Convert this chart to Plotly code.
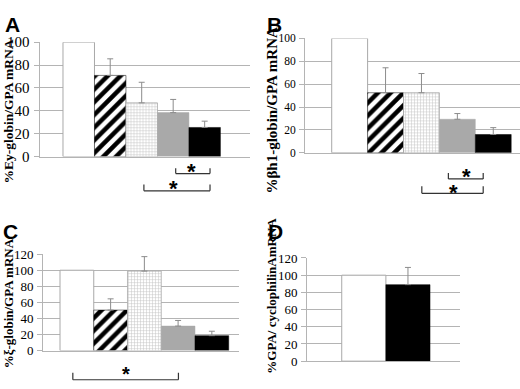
import plotly.graph_objects as go

W, H = 520, 389

# ---------------- data ----------------
groups5 = ["control", "hatched", "dotted", "gray", "black"]
A_vals = [100, 71, 47, 38.5, 25.5]
A_err = [0, 14.5, 18, 11.5, 5.5]
B_vals = [100, 52.5, 52.5, 29.3, 16]
B_err = [0, 21.8, 16.8, 5, 6]
C_vals = [100, 50.4, 98.9, 30.5, 18.6]
C_err = [0, 14, 18, 7, 5.5]
groupsD = ["control", "black"]
D_vals = [100, 89]
D_err = [0, 20]

A_ticks = [0, 20, 40, 60, 80, 100]
C_ticks = [0, 20, 40, 60, 80, 100, 120]

titles = {
    "A": "%Ey-globin/GPA mRNA",
    "B": "%βh1-globin/GPA mRNA",
    "C": "%ξ-globin/GPA mRNA",
    "D": "%GPA/ cyclophilinAmRNA",
}

GRID = "#b4b4b4"
ERR = "#8c8c8c"
SERIF = "Liberation Serif"
SANS = "Liberation Sans"


def xd(p0, p1):
    return [p0 / W, min(p1 / W, 1.0)]


def yd(top, bottom):
    return [(H - bottom) / H, (H - top) / H]


def py(p):
    return (H - p) / H


styles = {
    "control": dict(color="white", line=dict(color="#a8a8a8", width=1)),
    "hatched": dict(color="white", line=dict(color="black", width=0.5),
                    pattern=dict(shape="/", fgcolor="black", bgcolor="white", fgopacity=1,
                                 size=9, solidity=0.5)),
    "dotted": dict(color="white", line=dict(color="#a8a8a8", width=0.8),
                   pattern=dict(shape="+", fgcolor="#c4c4c4", bgcolor="white", fgopacity=1,
                                size=3, solidity=0.3)),
    "gray": dict(color="#a9a9a9", line=dict(color="#a9a9a9", width=0.5)),
    "black": dict(color="black", line=dict(color="black", width=0.5)),
}

fig = go.Figure()


def add_panel(n, names, vals, errs):
    xa = "x" if n == 1 else f"x{n}"
    ya = "y" if n == 1 else f"y{n}"
    for i, (nm, v, e) in enumerate(zip(names, vals, errs)):
        fig.add_trace(go.Bar(
            x=[i], y=[v], width=1.0, xaxis=xa, yaxis=ya,
            marker=styles[nm], opacity=1, showlegend=False,
            error_y=dict(type="data", array=[e], arrayminus=[0], symmetric=False,
                         color=ERR, thickness=1, width=3, visible=e > 0),
        ))


add_panel(1, groups5, A_vals, A_err)
add_panel(2, groups5, B_vals, B_err)
add_panel(3, groups5, C_vals, C_err)
add_panel(4, groupsD, D_vals, D_err)


def yaxis(dom, rng, ticks, size, anchor):
    return dict(domain=dom, range=rng, tickvals=ticks, anchor=anchor, showgrid=True, gridcolor=GRID,
                gridwidth=1, showline=True, linecolor=GRID, linewidth=1, ticks="outside",
                ticklen=5, tickcolor=GRID, zeroline=False, ticklabelstandoff=1,
                tickfont=dict(family=SERIF, size=size, color="black"), fixedrange=True)


def xaxis(dom, rng, anchor):
    return dict(domain=dom, range=rng, anchor=anchor, showgrid=False, showline=True,
                linecolor=GRID, linewidth=1, showticklabels=False, ticks="", zeroline=False,
                fixedrange=True)


fig.update_layout(
    width=W, height=H, margin=dict(l=0, r=0, t=0, b=0),
    paper_bgcolor="white", plot_bgcolor="white", barmode="overlay",
    xaxis=xaxis(xd(39.5, 250), [-1.246, 5.44], "y"),
    yaxis=yaxis(yd(35.7, 155), [0, 100], A_ticks, 15, "x"),
    xaxis2=xaxis(xd(305, 520), [-1.244, 4.745], "y2"),
    yaxis2=yaxis(yd(31.7, 151), [0, 100], A_ticks, 11.5, "x2"),
    xaxis3=xaxis(xd(43, 239.3), [-1.004, 4.814], "y3"),
    yaxis3=yaxis(yd(256.7, 357.3), [0, 120], C_ticks, 13, "x3"),
    xaxis4=xaxis(xd(307, 460), [-1.287, 2.179], "y4"),
    yaxis4=yaxis(yd(260.7, 368.3), [0, 120], C_ticks, 13, "x4"),
)

shapes = []
annos = []


def bracket(xref, x0, x1, ybar, ytop):
    for (a, b, c, d) in [(x0, ybar, x1, ybar), (x0, ybar, x0, ytop), (x1, ybar, x1, ytop)]:
        shapes.append(dict(type="line", xref=xref, yref="paper", x0=a, x1=c,
                           y0=py(b), y1=py(d), line=dict(color="#333333", width=1.2)))


def star(xref, x, ypx, size=22):
    annos.append(dict(text="<b>*</b>", xref=xref, yref="paper", x=x, y=py(ypx),
                      xanchor="center", yanchor="middle", showarrow=False,
                      font=dict(family=SANS, size=size, color="black")))


# Panel A brackets
bracket("x", 3.08, 4.17, 172.7, 167)
star("x", 3.59, 170)
bracket("x", 2.07, 4.17, 190.7, 184)
star("x", 3.0, 188)
# Panel B brackets
bracket("x2", 2.75, 3.72, 178.3, 172)
star("x2", 3.26, 176)
bracket("x2", 2.01, 3.72, 193.3, 186)
star("x2", 2.89, 192)
# Panel C bracket
bracket("x3", -0.12, 3.01, 387.7, 380.5)
star("x3", 1.46, 382, 20)

# panel letters
for letter, xp, yp in [("A", 3, 3), ("B", 265, 3), ("C", 1, 219), ("D", 266, 219)]:
    annos.append(dict(text=f"<b>{letter}</b>", xref="paper", yref="paper", x=xp / W, y=py(yp),
                      xanchor="left", yanchor="top", showarrow=False,
                      font=dict(family=SANS, size=21, color="black")))

# y axis titles
for key, xp, yc, size in [("A", 9, 108, 13.5), ("B", 272, 107, 15), ("C", 8, 308, 13), ("D", 272, 300, 13)]:
    annos.append(dict(text=f"<b>{titles[key]}</b>", xref="paper", yref="paper", x=xp / W, y=py(yc),
                      xanchor="center", yanchor="middle", textangle=-90, showarrow=False,
                      font=dict(family=SERIF, size=size, color="black")))

fig.update_layout(shapes=shapes, annotations=annos)
fig.write_html("out.html", config={"displayModeBar": False},
               post_script="document.body.style.margin='0';document.body.style.overflow='hidden';")
